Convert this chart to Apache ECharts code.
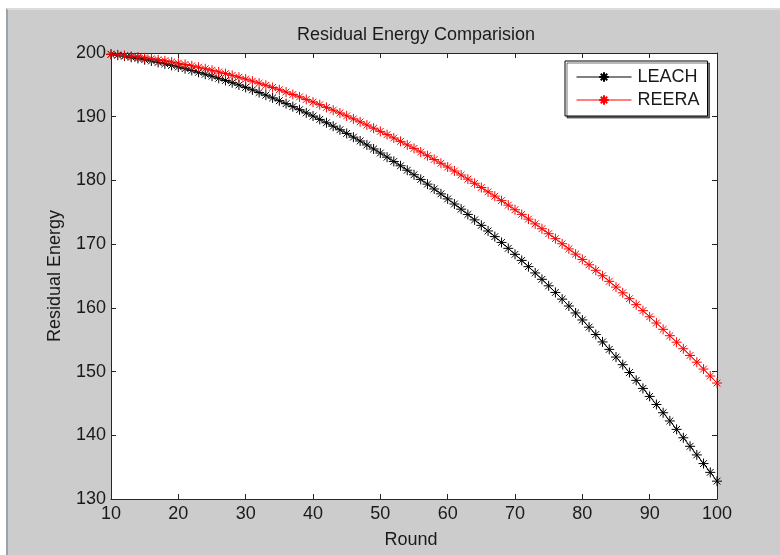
<!DOCTYPE html>
<html>
<head>
<meta charset="utf-8">
<script src="https://cdn.jsdelivr.net/npm/echarts@6/dist/echarts.min.js"></script>
<style>
html,body{margin:0;padding:0;background:#fff;}
#wrap{position:absolute;left:0;top:0;width:780px;height:555px;background:#ffffff;}
#frame{position:absolute;left:6px;top:8px;width:774px;height:547px;background:#cccccc;border-left:2px solid #9aa3ad;border-top:2px solid #dcdcdc;box-sizing:border-box;}
#chart{position:absolute;left:0;top:0;width:780px;height:555px;}
</style>
</head>
<body>
<div id="wrap"><div id="frame"></div><div id="chart"></div></div>
<script>
const titleText = 'Residual Energy Comparision';
const xName = 'Round';
const yName = 'Residual Energy';
const seriesNames = ['LEACH', 'REERA'];
const rounds = [];
for (let r = 10; r <= 100; r++) rounds.push(r);
const leach = [
199.80,199.65,199.50,199.33,199.15,198.95,198.75,198.53,198.30,198.06,
197.80,197.54,197.26,196.97,196.67,196.36,196.03,195.69,195.34,194.98,
194.60,194.21,193.80,193.38,192.95,192.51,192.05,191.58,191.10,190.60,
190.10,189.58,189.05,188.51,187.95,187.38,186.79,186.19,185.57,184.94,
184.30,183.65,182.98,182.30,181.60,180.89,180.16,179.42,178.66,177.89,
177.10,176.30,175.49,174.66,173.81,172.95,172.07,171.18,170.27,169.34,
168.40,167.45,166.47,165.48,164.48,163.46,162.42,161.37,160.29,159.20,
158.10,156.97,155.82,154.65,153.48,152.28,151.08,149.85,148.62,147.36,
146.10,144.83,143.54,142.25,140.93,139.61,138.27,136.92,135.56,134.18,
132.80];
const reera = [
199.80,199.71,199.61,199.50,199.37,199.24,199.09,198.94,198.77,198.59,
198.40,198.20,197.99,197.77,197.53,197.29,197.03,196.77,196.49,196.20,
195.90,195.59,195.26,194.93,194.59,194.23,193.87,193.49,193.11,192.71,
192.30,191.89,191.46,191.03,190.58,190.13,189.66,189.19,188.70,188.20,
187.70,187.19,186.66,186.13,185.58,185.03,184.46,183.88,183.29,182.70,
182.10,181.48,180.85,180.20,179.55,178.89,178.21,177.53,176.83,176.12,
175.40,174.67,173.93,173.18,172.42,171.64,170.86,170.06,169.25,168.43,
167.60,166.76,165.90,165.04,164.16,163.26,162.36,161.44,160.50,159.56,
158.60,157.62,156.63,155.63,154.61,153.58,152.53,151.47,150.39,149.30,
148.20];
const xTicks = [10,20,30,40,50,60,70,80,90,100];
const yTicks = [130,140,150,160,170,180,190,200];

const star = 'path://M5,0 L5,10 M0,5 L10,5 M1.6,1.6 L8.4,8.4 M1.6,8.4 L8.4,1.6';
const font = 'Liberation Sans, Arial, sans-serif';
const txt = '#1a1a1a';
const fs = 18;

function mk(name, data, color) {
  return {
    name: name, type: 'line', xAxisIndex: 0, yAxisIndex: 0,
    data: rounds.map((r, i) => [r, data[i]]),
    symbol: star, symbolSize: 10, showSymbol: true,
    lineStyle: {color: color, width: 1},
    itemStyle: {color: 'rgba(0,0,0,0)', borderColor: color, borderWidth: 1},
    animation: false, z: 3
  };
}

const chart = echarts.init(document.getElementById('chart'), null, {renderer: 'canvas'});
const axisCommon = {
  interval: 10,
  axisLine: {show: true, lineStyle: {color: '#262626', width: 1}},
  axisTick: {show: true, inside: true, length: 5, lineStyle: {color: '#262626'}},
  splitLine: {show: false},
};
chart.setOption({
  backgroundColor: 'transparent',
  animation: false,
  title: {text: titleText, left: 292, top: 21,
    textStyle: {fontFamily: font, fontSize: fs, fontWeight: 'normal', color: txt}},
  grid: {left: 111, right: 63, top: 53, bottom: 56, show: true, backgroundColor: '#ffffff', borderWidth: 0},
  legend: {
    data: seriesNames, orient: 'vertical', left: 565, top: 61,
    padding: [7, 8, 7, 11], itemGap: 5,
    itemWidth: 55, itemHeight: 12,
    lineStyle: {width: 1},
    backgroundColor: '#ffffff', borderColor: '#000', borderWidth: 1,
    shadowColor: 'rgba(0,0,0,0.55)', shadowOffsetX: 2, shadowOffsetY: 2, shadowBlur: 0,
    textStyle: {fontFamily: font, fontSize: fs, color: txt, padding: [0, 0, 0, 1]}
  },
  xAxis: [
    Object.assign({}, axisCommon, {type: 'value', position: 'bottom', min: 10, max: 100,
      name: xName, nameLocation: 'middle', nameGap: 32,
      nameTextStyle: {fontFamily: font, fontSize: fs, color: txt, padding: [0, 6, 0, 0]},
      axisLabel: {fontFamily: font, fontSize: fs, color: txt, margin: 6,
        formatter: v => xTicks.includes(v) ? String(v) : ''}}),
    Object.assign({}, axisCommon, {type: 'value', position: 'top', min: 10, max: 100,
      axisLabel: {show: false}})
  ],
  yAxis: [
    Object.assign({}, axisCommon, {type: 'value', position: 'left', min: 130, max: 200,
      name: yName, nameLocation: 'middle', nameGap: 47,
      nameTextStyle: {fontFamily: font, fontSize: fs, color: txt},
      axisLabel: {fontFamily: font, fontSize: fs, color: txt, margin: 5,
        formatter: v => yTicks.includes(v) ? String(v) : ''}}),
    Object.assign({}, axisCommon, {type: 'value', position: 'right', min: 130, max: 200,
      axisLabel: {show: false}})
  ],
  series: [mk(seriesNames[0], leach, '#000000'), mk(seriesNames[1], reera, '#ff0000')]
});
</script>
</body>
</html>
